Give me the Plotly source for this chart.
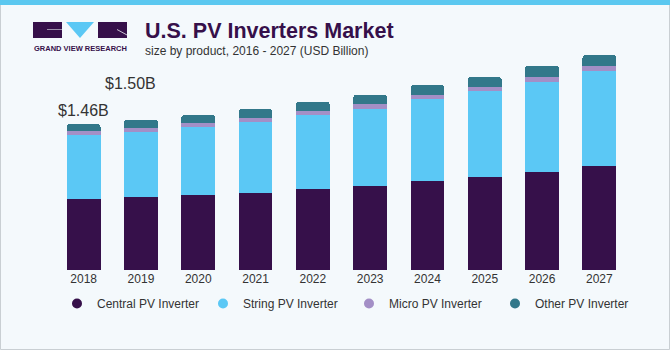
import plotly.graph_objects as go

years = ["2018", "2019", "2020", "2021", "2022", "2023", "2024", "2025", "2026", "2027"]
central = [0.71, 0.73, 0.75, 0.77, 0.81, 0.84, 0.89, 0.93, 0.98, 1.04]
string_ = [0.64, 0.65, 0.68, 0.71, 0.74, 0.77, 0.82, 0.86, 0.90, 0.95]
micro = [0.04, 0.04, 0.04, 0.04, 0.04, 0.05, 0.04, 0.04, 0.05, 0.05]
other = [0.07, 0.08, 0.08, 0.09, 0.09, 0.09, 0.10, 0.10, 0.11, 0.11]
labels = {"2018": "$1.46B", "2019": "$1.50B"}

series = [
    ("Central PV Inverter", central, "#36104A"),
    ("String PV Inverter", string_, "#5BC8F5"),
    ("Micro PV Inverter", micro, "#A38FC6"),
    ("Other PV Inverter", other, "#32788A"),
]

BG = "#F4F9FC"
TXT = "#333333"
PURPLE = "#36104A"

# layout geometry helpers (pixel -> paper)
L, W, T, H = 55, 573, 30, 240
def px(x):
    return (x - L) / W
def py(y):
    return (T + H - y) / H

fig = go.Figure()
for name, vals, col in series:
    fig.add_trace(go.Bar(x=years, y=vals, name=name, marker=dict(color=col, line=dict(width=0)),
                         showlegend=False, hoverinfo="skip"))
for name, vals, col in series:
    fig.add_trace(go.Scatter(x=[years[0]], y=[None], mode="markers", name=name,
                             marker=dict(color=col, size=10, symbol="circle")))

totals = [round(a + b + c + d, 2) for a, b, c, d in zip(central, string_, micro, other)]
shifts = {"2018": (0, 14), "2019": (-10, 37)}
for yr, txt in labels.items():
    i = years.index(yr)
    xs, ys = shifts[yr]
    fig.add_annotation(x=i, y=totals[i], text=txt, showarrow=False, xshift=xs, yshift=ys,
                       yanchor="middle", font=dict(size=16, color=TXT, family="Arial"))

shapes = []
# border and top stripe
shapes.append(dict(type="rect", xref="paper", yref="paper", x0=px(0.5), x1=px(669.5), y0=py(349.5), y1=py(0),
                   line=dict(color="#C9CFD3", width=1), fillcolor="rgba(0,0,0,0)", layer="below"))
shapes.append(dict(type="rect", xref="paper", yref="paper", x0=px(0), x1=px(670), y0=py(5), y1=py(0),
                   line=dict(width=0), fillcolor="#5BC8F0"))
# logo
shapes.append(dict(type="rect", xref="paper", yref="paper", x0=px(33), x1=px(62), y0=py(38), y1=py(22),
                   line=dict(width=0), fillcolor=PURPLE))
shapes.append(dict(type="rect", xref="paper", yref="paper", x0=px(98), x1=px(127), y0=py(38), y1=py(22),
                   line=dict(width=0), fillcolor=PURPLE))
tri = "M {} {} L {} {} L {} {} Z".format(px(66), py(22), px(94), py(22), px(80), py(38))
shapes.append(dict(type="path", xref="paper", yref="paper", path=tri, line=dict(width=0), fillcolor="#5BC8F5"))
shapes.append(dict(type="line", xref="paper", yref="paper", x0=px(47), x1=px(62), y0=py(29.5), y1=py(29.5),
                   line=dict(color="#9C8FAA", width=1)))
shapes.append(dict(type="line", xref="paper", yref="paper", x0=px(117), x1=px(127), y0=py(29.5), y1=py(35),
                   line=dict(color="#C9C2D2", width=1)))

fig.add_annotation(xref="paper", yref="paper", x=px(80), y=py(48.5), text="<b>GRAND VIEW RESEARCH</b>",
                   showarrow=False, xanchor="center", yanchor="middle",
                   font=dict(size=7.5, color=PURPLE, family="Arial"))
fig.add_annotation(xref="paper", yref="paper", x=px(143), y=py(30.5), text="<b>U.S. PV Inverters Market</b>",
                   showarrow=False, xanchor="left", yanchor="middle",
                   font=dict(size=21.5, color=PURPLE, family="Arial"))
fig.add_annotation(xref="paper", yref="paper", x=px(143), y=py(51), text="size by product, 2016 - 2027 (USD Billion)",
                   showarrow=False, xanchor="left", yanchor="middle",
                   font=dict(size=12, color=TXT, family="Arial"))

fig.update_layout(
    width=670, height=350,
    margin=dict(l=L, r=670 - L - W, t=T, b=350 - T - H, autoexpand=False),
    paper_bgcolor=BG, plot_bgcolor=BG,
    barmode="stack", bargap=0.41, barcornerradius=3,
    showlegend=True,
    legend=dict(orientation="h", traceorder="normal", x=px(54), y=py(286),
                xanchor="left", yanchor="top", entrywidth=101, borderwidth=3,
                bordercolor="rgba(0,0,0,0)", font=dict(size=12, color=TXT, family="Arial"),
                bgcolor="rgba(0,0,0,0)", itemclick=False),
    shapes=shapes,
    xaxis=dict(type="category", range=[-0.5, len(years) - 0.5], showgrid=False, showline=False,
               zeroline=False, ticks="", tickfont=dict(size=12, color=TXT, family="Arial"), fixedrange=True),
    yaxis=dict(range=[0, 2.4], visible=False, fixedrange=True),
    hovermode=False,
)

fig.write_html("out.html")
